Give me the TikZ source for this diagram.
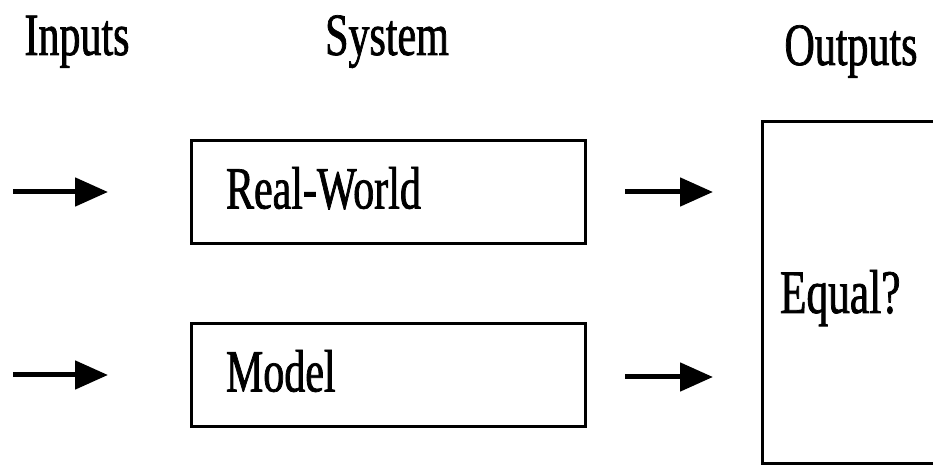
\documentclass[tikz,border=0pt]{standalone}
\usepackage{fontspec}
\setmainfont[FakeStretch=0.7,FakeBold=1.2]{Liberation Serif}
\usepackage{tikz}
\usetikzlibrary{positioning,calc,arrows.meta}

\begin{document}
\begin{tikzpicture}[x=0.5pt,y=0.5pt,
 head/.style={anchor=base,inner sep=0pt,font=\fontsize{30}{36}\selectfont},
 sysbox/.style={draw,line width=1.5pt,text width=162pt,inner xsep=17.5pt,
   minimum height=51.5pt,align=left,text height=16pt,text depth=0pt,
   font=\fontsize{30}{36}\selectfont},
 flow/.style={line width=2.5pt,-{Triangle[length=16.5pt,width=14pt]}}]
\useasboundingbox (0,0) rectangle (933,466);
\clip (0,0) rectangle (933,466);
\node[head] (inputs) at (77,411) {Inputs};
\node[head] (system) at (387,411) {System};
\node[head] (outputs) at (851,401) {Outputs};
\node[sysbox] (real) at (388,273.5) {Real-World};
\node[sysbox] (model) at (388,90.5) {Model};
\node[sysbox,text width=76pt,inner xsep=9pt,minimum height=171pt,
  text height=20pt,font=\fontsize{31}{36}\selectfont] (equal) at (856,173) {Equal?};
\coordinate (inA) at (13,274); \coordinate (inAend) at (108,274);
\coordinate (inB) at (13,91); \coordinate (inBend) at (108,91);
\coordinate (outA) at (625,274); \coordinate (outAend) at (713,274);
\coordinate (outB) at (625,89); \coordinate (outBend) at (713,89);
\draw[flow] (inA) -- (inAend);
\draw[flow] (inB) -- (inBend);
\draw[flow] (outA) -- (outAend);
\draw[flow] (outB) -- (outBend);
\end{tikzpicture}
\end{document}
